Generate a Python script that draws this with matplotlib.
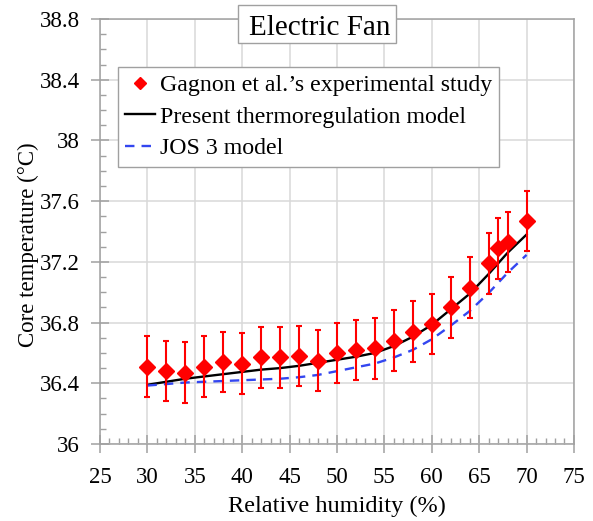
import matplotlib
matplotlib.use('Agg')
import matplotlib.pyplot as plt
import matplotlib.patches as mpatches
from matplotlib.lines import Line2D
from matplotlib.ticker import MultipleLocator

plt.rcParams['font.family'] = ['Liberation Serif', 'DejaVu Serif']

# experimental data (Gagnon et al.)
rh_exp = [30, 32, 34, 36, 38, 40, 42, 44, 46, 48, 50,
          52, 54, 56, 58, 60, 62, 64, 66, 67, 68, 70]
tc_exp = [36.51, 36.48, 36.47, 36.51, 36.54, 36.53, 36.57, 36.57, 36.58, 36.55, 36.60,
          36.62, 36.63, 36.68, 36.74, 36.79, 36.90, 37.03, 37.19, 37.29, 37.33, 37.47]
tc_err = [0.20, 0.20, 0.20, 0.20, 0.20, 0.20, 0.20, 0.20, 0.20, 0.20, 0.20,
          0.20, 0.20, 0.20, 0.20, 0.20, 0.20, 0.20, 0.20, 0.20, 0.20, 0.20]

# model curves
rh_model = [30, 32, 34, 36, 38, 40, 42, 44, 46, 48, 50,
            52, 54, 56, 58, 60, 62, 64, 66, 68, 70]
tc_present = [36.39, 36.41, 36.43, 36.445, 36.46, 36.475, 36.49, 36.50, 36.515, 36.535, 36.555,
              36.575, 36.60, 36.645, 36.707, 36.785, 36.887, 36.99, 37.12, 37.26, 37.38]
tc_jos3 = [36.385, 36.395, 36.405, 36.41, 36.415, 36.42, 36.425, 36.43, 36.44, 36.455, 36.48,
           36.505, 36.53, 36.57, 36.62, 36.69, 36.78, 36.876, 36.995, 37.128, 37.246]

fig = plt.figure(figsize=(5.93, 5.21), dpi=100)
ax = fig.add_axes([0.1686, 0.1478, 0.7993, 0.8157])

axis_gray = '#a0a0a0'

# models
ax.plot(rh_model, tc_present, color='black', lw=1.7, zorder=3)
ax.plot(rh_model, tc_jos3, color='#3346f0', lw=1.7, dashes=(4, 3), zorder=3)

# experiment with error bars
ax.errorbar(rh_exp, tc_exp, yerr=tc_err, fmt='D', color='red', ms=8,
            elinewidth=1.5, capsize=2.5, capthick=1.5, zorder=4)

ax.set_xlim(25, 75)
ax.set_ylim(36, 38.8)
ax.xaxis.set_major_locator(MultipleLocator(5))
ax.xaxis.set_minor_locator(MultipleLocator(1))
ax.yaxis.set_minor_locator(MultipleLocator(0.1))
ax.set_yticks([36, 36.4, 36.8, 37.2, 37.6, 38, 38.4, 38.8])
ax.set_yticklabels(['36', '36.4', '36.8', '37.2', '37.6', '38', '38.4', '38.8'])

ax.grid(True, which='major', color='#d9d9d9', lw=1.1)
ax.set_axisbelow(True)
for s in ax.spines.values():
    s.set_color(axis_gray)
    s.set_linewidth(1.1)

ax.tick_params(which='major', direction='inout', length=13, width=1.1,
               color=axis_gray, labelsize=16.5, labelcolor='black')
ax.tick_params(axis='y', which='major', pad=8)
ax.tick_params(axis='x', which='major', pad=10)
ax.tick_params(which='minor', direction='in', length=4.5, width=1.0, color=axis_gray)

ax.set_xlabel('Relative humidity (%)', fontsize=17.5, labelpad=6)
ax.set_ylabel('Core temperature (°C)', fontsize=16.5)
ax.yaxis.set_label_coords(-0.128, 0.468)

# legend
handles = [Line2D([], [], marker='D', color='red', ls='none', ms=6),
           Line2D([], [], color='black', lw=1.7),
           Line2D([], [], color='#3346f0', lw=1.7, dashes=(4, 3))]
labels = ["Gagnon et al.’s experimental study",
          'Present thermoregulation model',
          'JOS 3 model']
leg = ax.legend(handles, labels, loc='upper left', bbox_to_anchor=(0.038, 0.887),
                borderaxespad=0, fontsize=17.2, handlelength=1.25, handletextpad=0.2,
                labelspacing=0.42, borderpad=0.3, fancybox=False, framealpha=1,
                edgecolor=axis_gray)
leg.get_frame().set_linewidth(1.0)

# boxed title
box = mpatches.Rectangle((0.4013, 0.9175), 0.2664, 0.0729, transform=fig.transFigure,
                         facecolor='white', edgecolor=axis_gray, lw=1.0, zorder=5)
fig.patches.append(box)
fig.text(0.5396, 0.9328, 'Electric Fan', ha='center', va='baseline',
         fontsize=21, zorder=6)

fig.savefig('out.png', dpi=100)
